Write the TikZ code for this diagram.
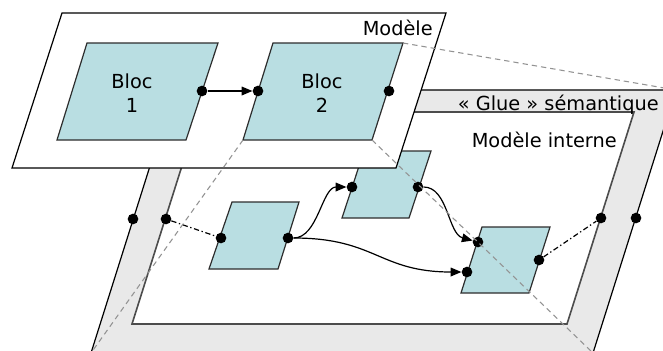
\documentclass[tikz,border=0pt]{standalone}
\usepackage{fontspec}
\setmainfont{DejaVu Sans}
\usetikzlibrary{arrows.meta}
\definecolor{bluefill}{RGB}{185,222,226}
\definecolor{gluefill}{RGB}{233,233,233}
\definecolor{edgegray}{RGB}{45,45,45}
\tikzset{
  port/.style={circle,fill=black,inner sep=0pt,minimum size=8pt},
  blockshape/.style={fill=bluefill,draw=edgegray,line width=0.9pt},
  frameshape/.style={fill=white,draw=black,line width=0.9pt},
  link/.style={line width=0.9pt,-{Triangle[length=8pt,width=6.5pt]}},
  dashdotlink/.style={line width=0.9pt,dash pattern=on 4pt off 2pt on 1pt off 2pt},
  projline/.style={draw=gray!85,line width=0.8pt,dash pattern=on 4pt off 3pt},
  lbl/.style={inner sep=0pt,font=\fontsize{14.5}{18}\selectfont},
}
\begin{document}
\begin{tikzpicture}[x=0.75pt,y=-0.75pt]
\useasboundingbox (0,0) rectangle (663,350);
\clip (0,0) rectangle (663,350);
% glue corners
\coordinate (gTL) at (174,90);
\coordinate (gTR) at (676,90);
\coordinate (gBR) at (593,353);
\coordinate (gBL) at (91,353);
% glue band
\fill[gluefill] (gTL) -- (gTR) -- (gBR) -- (gBL) -- cycle;
\draw[black,line width=0.9pt] (gBL) -- (gTL) -- (gTR) -- (gBR);
% inner model
\draw[fill=white,draw=black!70,line width=1.2pt] (199,112) -- (634,112) -- (567,324) -- (132,324) -- cycle;
\node[lbl,anchor=base east] (internlbl) at (617,147) {Modèle interne};
\node[lbl,anchor=base east] (gluelbl) at (659,110) {« Glue » sémantique};
% small blocks
\draw[blockshape] (232,202) -- (299,202) -- (278,269) -- (209,269) -- cycle;
\draw[blockshape] (364,151) -- (431,151) -- (409,218) -- (342,218) -- cycle;
\draw[blockshape] (482,227) -- (550,227) -- (529,293) -- (461,293) -- cycle;
% ports
\node[port] (aL) at (221,238) {};
\node[port] (aR) at (288,238) {};
\node[port] (bL) at (352,187) {};
\node[port] (bR) at (418,187) {};
\node[port] (cT) at (478,242) {};
\node[port] (cB) at (467,272) {};
\node[port] (cR) at (539,260) {};
\node[port] (gLo) at (133,219) {};
\node[port] (gLi) at (166,219) {};
\node[port] (gRi) at (601,218) {};
\node[port] (gRo) at (636,218) {};
% connectors
\draw[link] (aR) .. controls +(30,0) and +(-30,0) .. (bL);
\draw[link] (aR) .. controls +(88,0) and +(-88,0) .. (cB);
\draw[link] (bR) .. controls +(30,0) and +(-30,-8) .. (cT);
\draw[dashdotlink] (gLi) -- (aL);
\draw[dashdotlink] (cR) -- (gRi);
% outer model frame
\draw[frameshape] (62,13) -- (446,13) -- (396,168) -- (12,168) -- cycle;
\node[lbl,anchor=base east] (modlbl) at (433,35) {Modèle};
\draw[blockshape] (87,43) -- (218,43) -- (186,140) -- (57,140) -- cycle;
\draw[blockshape] (273,43) coordinate (b2TL) -- (403,43) coordinate (b2TR) -- (372,140) coordinate (b2BR) -- (243,140) coordinate (b2BL) -- cycle;
\node[lbl,align=center] (bloc1) at (132,92.7) {Bloc\\1};
\node[lbl,align=center] (bloc2) at (322,92.7) {Bloc\\2};
\node[port] (p1R) at (202,91) {};
\node[port] (p2L) at (258,91) {};
\node[port] (p2R) at (389,91) {};
\draw[link] (p1R) -- (p2L);
% projection lines
\draw[projline] (b2TR) -- (gTR);
\draw[projline] (b2BL) -- (gBL);
\draw[projline] (b2BR) -- (gBR);
\end{tikzpicture}
\end{document}
